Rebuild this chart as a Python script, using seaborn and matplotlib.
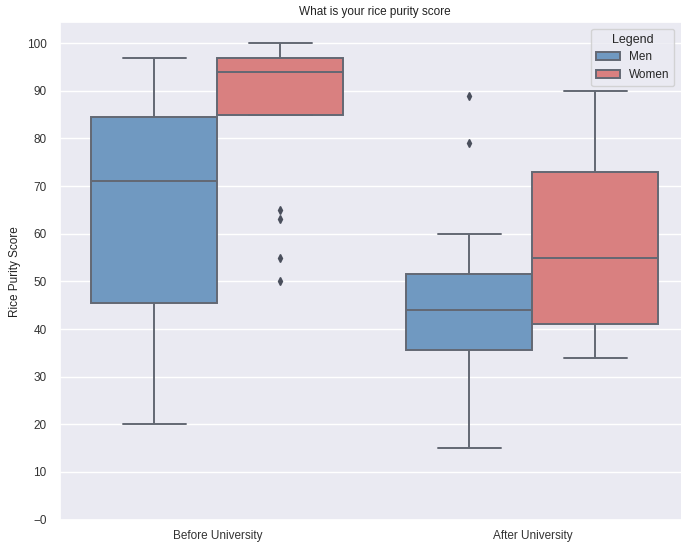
import matplotlib
matplotlib.use("Agg")
import matplotlib.pyplot as plt
import seaborn as sns
import pandas as pd

# Scores (chosen so the box stats match)
men_before = [20, 38, 45, 46, 60, 71, 78, 84, 85, 92, 97]
women_before = [50, 55, 63, 65, 85, 87, 90, 92, 94, 95, 96, 97, 97, 98, 99, 100, 100]
men_after = [15, 25, 30, 35, 36, 40, 42, 44, 46, 50, 51, 52, 60, 79, 89]
women_after = [34, 38, 41, 48, 55, 62, 73, 82, 90]

periods = ["Before University", "After University"]
genders = ["Men", "Women"]
ytick_vals = [0, 10, 20, 30, 40, 50, 60, 70, 80, 90, 100]
ytick_labels = ["\u22120", "10", "20", "30", "40", "50", "60", "70", "80", "90", "100"]

rows = []
for period, gender, vals in [
    ("Before University", "Men", men_before),
    ("Before University", "Women", women_before),
    ("After University", "Men", men_after),
    ("After University", "Women", women_after),
]:
    for v in vals:
        rows.append({"Period": period, "Gender": gender, "Score": v})
df = pd.DataFrame(rows)

sns.set_theme(style="darkgrid")
plt.rcParams["font.family"] = ["Liberation Sans", "DejaVu Sans"]

fig = plt.figure(figsize=(6.81, 5.45), dpi=100)
# the original picture is cropped on the right, so the axes run past the edge
ax = fig.add_axes([0.088, 0.045, 0.925, 0.915])

palette = {"Men": "#7099c1", "Women": "#d98080"}
sns.boxplot(data=df, x="Period", y="Score", hue="Gender", order=periods,
            hue_order=genders, palette=palette, saturation=1, width=0.8,
            linecolor="#636873", linewidth=1.4,
            flierprops={"marker": "d", "markersize": 4,
                        "markerfacecolor": "#4a4f5c", "markeredgecolor": "#4a4f5c"},
            ax=ax)

ax.set_ylim(-0.2, 104.5)
ax.set_yticks(ytick_vals)
ax.set_yticklabels(ytick_labels)
ax.tick_params(labelsize=8.5, colors="#333333")
ax.tick_params(axis="x", pad=1)
ax.set_xlabel("")
ax.set_ylabel("Rice Purity Score", fontsize=8.5, color="#222222")
ax.set_title("What is your rice purity score", fontsize=8.5, color="#222222", pad=5)
leg = ax.legend(title="Legend", loc="upper right", fontsize=8.5, title_fontsize=9,
                bbox_to_anchor=(0.999, 0.958), bbox_transform=fig.transFigure)

fig.savefig("out.png", dpi=100)
